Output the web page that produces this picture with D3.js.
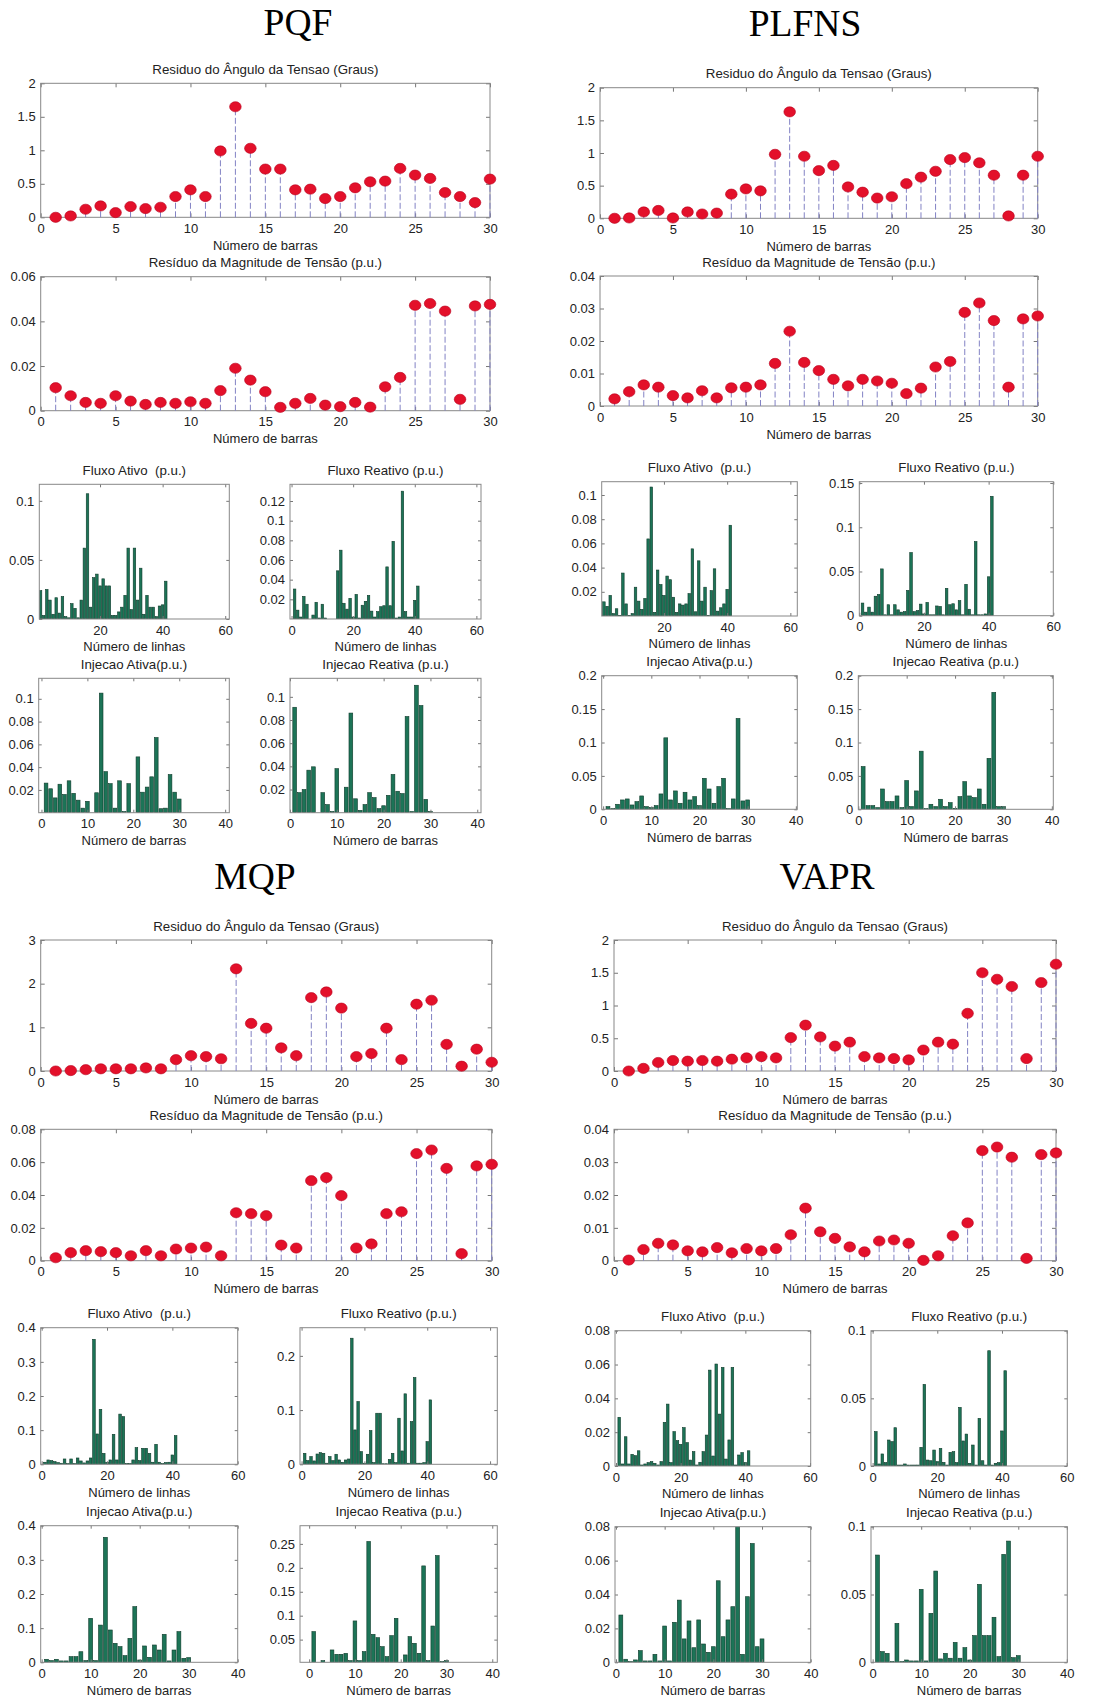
<!DOCTYPE html>
<html>
<head>
<meta charset="utf-8">
<style>
  body { margin: 0; background: #fff; }
  svg text { font-family: "Liberation Sans", Arial, sans-serif; fill: #222; white-space: pre; }
  .big { font-family: "Liberation Serif", "Times New Roman", serif; font-size: 37.5px; fill: #000; }
</style>
</head>
<body>
<script src="https://d3js.org/d3.v7.min.js"></script>
<script>
var width = 1110, height = 1700;

// bus numbers (1..30) and line numbers (1..41) of the IEEE 30-bus case
var barras = d3.range(1, 31);
var linhas = d3.range(1, 42);

// ---- PQF ----
var pqfAngulo = [0, 0.02, 0.12, 0.17, 0.07, 0.16, 0.13, 0.15, 0.31, 0.41, 0.31, 0.99, 1.65, 1.03, 0.72,
  0.72, 0.41, 0.42, 0.28, 0.31, 0.44, 0.53, 0.54, 0.73, 0.63, 0.58, 0.37, 0.31, 0.22, 0.57];
var pqfMagnitude = [0.0103, 0.0067, 0.0037, 0.0033, 0.0067, 0.0043, 0.0028, 0.0037, 0.0033, 0.004, 0.0033,
  0.009, 0.019, 0.0137, 0.0085, 0.0015, 0.0033, 0.0055, 0.0025, 0.0018, 0.0037, 0.0016, 0.0107, 0.0149,
  0.0472, 0.048, 0.0446, 0.0051, 0.0469, 0.0476];
var pqfFluxoAtivo = [0.024, 0.003, 0.025, 0.016, 0.004, 0.018, 0.005, 0.019, 0.002, 0.001, 0.013, 0.009,
  0.001, 0.016, 0.06, 0.106, 0.01, 0.035, 0.038, 0.028, 0.034, 0.028, 0.028, 0.003, 0.003, 0.006, 0.01,
  0.02, 0.06, 0.008, 0.06, 0.016, 0.043, 0.004, 0.02, 0.01, 0.01, 0.002, 0.011, 0.012, 0.032];
var pqfFluxoReativo = [0.0305, 0.009, 0.002, 0.023, 0.015, 0, 0.004, 0.017, 0.001, 0.015, 0.001, 0, 0, 0,
  0.049, 0.07, 0.016, 0.01, 0.021, 0.002, 0.025, 0.001, 0.014, 0.018, 0.024, 0.008, 0.002, 0.0075, 0.0125,
  0.0135, 0.053, 0.0135, 0.079, 0.001, 0.002, 0.13, 0.0075, 0.002, 0.002, 0.019, 0.0335];
var pqfInjAtiva = [0.026, 0.021, 0.013, 0.025, 0.016, 0.028, 0.017, 0.011, 0.004, 0.01, 0, 0.0175, 0.105,
  0.036, 0.0255, 0.004, 0.028, 0.001, 0.0255, 0, 0.049, 0.018, 0.0225, 0.0315, 0.066, 0.0035, 0.004,
  0.0335, 0.018, 0.012];
var pqfInjReativa = [0.091, 0.0173, 0.02, 0.0367, 0.0396, 0, 0.0173, 0.007, 0.001, 0.038, 0, 0.022, 0.086,
  0.012, 0.002, 0.007, 0.0173, 0.013, 0.0035, 0.006, 0.015, 0.033, 0.0185, 0.0165, 0.083, 0.001, 0.11,
  0.0925, 0.0115, 0.001];

// ---- PLFNS ----
var plfnsAngulo = [0, 0.005, 0.097, 0.12, 0.005, 0.097, 0.066, 0.08, 0.37, 0.45, 0.42, 0.98, 1.63, 0.95,
  0.73, 0.81, 0.48, 0.4, 0.31, 0.33, 0.53, 0.63, 0.72, 0.9, 0.93, 0.85, 0.66, 0.036, 0.66, 0.95];
var plfnsMagnitude = [0.0022, 0.0044, 0.0065, 0.0058, 0.0032, 0.0025, 0.0047, 0.0025, 0.0056, 0.0058,
  0.0065, 0.0131, 0.023, 0.0134, 0.0109, 0.0082, 0.0062, 0.0082, 0.0077, 0.007, 0.0038, 0.0055, 0.012,
  0.0137, 0.0288, 0.0317, 0.0263, 0.0058, 0.0268, 0.0277];
var plfnsFluxoAtivo = [0.0117, 0.008, 0.017, 0.002, 0.006, 0.0005, 0.0355, 0.01, 0.0005, 0.002, 0.0238,
  0.0123, 0.0055, 0.0145, 0.0637, 0.1066, 0.003, 0.038, 0.026, 0.017, 0.033, 0.03, 0.0155, 0.003, 0.01,
  0.009, 0.01, 0.0185, 0.0555, 0.0035, 0.0456, 0.0123, 0.0238, 0.0005, 0.021, 0.039, 0.004, 0.0068, 0.01,
  0.022, 0.075];
var plfnsFluxoReativo = [0.0143, 0.004, 0.0097, 0.004, 0.022, 0.024, 0.0529, 0.001, 0.0124, 0.001, 0.0124,
  0.0066, 0.004, 0.0046, 0.0286, 0.0714, 0.0046, 0.0058, 0.0131, 0.002, 0.015, 0.001, 0.001, 0.011, 0.0104,
  0.001, 0.0309, 0.0124, 0.0135, 0.0066, 0.017, 0.001, 0.0355, 0.0073, 0.001, 0.0838, 0.001, 0.001, 0.002,
  0.044, 0.135];
var plfnsInjAtiva = [0.004, 0.001, 0.0075, 0.014, 0.0155, 0.0065, 0.0115, 0.02, 0.004, 0.0025, 0.0055, 0.023,
  0.107, 0.014, 0.0275, 0.009, 0.0255, 0.014, 0.019, 0.0055, 0.0464, 0.0304, 0.009, 0.034, 0.0464, 0.001,
  0.0155, 0.136, 0.0125, 0.014];
var plfnsInjReativa = [0.064, 0.0055, 0.0055, 0.0025, 0.0304, 0.0115, 0.0115, 0.02, 0.0025, 0.043, 0.004,
  0.0275, 0.087, 0.001, 0.0075, 0.004, 0.015, 0.004, 0.01, 0.0015, 0.019, 0.0414, 0.02, 0.0175, 0.0304,
  0.0075, 0.0763, 0.175, 0.004, 0.004];

// ---- MQP ----
var mqpAngulo = [0, 0.01, 0.03, 0.05, 0.05, 0.05, 0.07, 0.05, 0.26, 0.35, 0.33, 0.28, 2.34, 1.09, 0.98,
  0.53, 0.35, 1.68, 1.81, 1.44, 0.33, 0.4, 0.98, 0.26, 1.53, 1.62, 0.61, 0.11, 0.5, 0.2];
var mqpMagnitude = [0.0018, 0.0049, 0.0061, 0.0055, 0.0049, 0.003, 0.0061, 0.003, 0.0071, 0.0077, 0.0083,
  0.003, 0.0292, 0.0286, 0.0274, 0.0095, 0.0077, 0.0487, 0.0506, 0.0396, 0.0077, 0.0102, 0.0286, 0.0298,
  0.0652, 0.0674, 0.0562, 0.0043, 0.0577, 0.0587];
var mqpFluxoAtivo = [0.006, 0.0127, 0.0107, 0.0078, 0.0049, 0.003, 0.0156, 0.002, 0.0156, 0.002, 0.0185,
  0.0098, 0.004, 0.0098, 0.0185, 0.366, 0.0888, 0.161, 0.032, 0.006, 0.0127, 0.0878, 0.0127, 0.147, 0.1395,
  0.002, 0.002, 0.0127, 0.0488, 0.0107, 0.0468, 0.0468, 0.032, 0.006, 0.0585, 0.006, 0.002, 0.005, 0.006,
  0.0273, 0.0839];
var mqpFluxoReativo = [0.0203, 0.0068, 0.0142, 0.0062, 0.019, 0.0215, 0.0203, 0.002, 0.0142, 0.0068, 0.0185,
  0.008, 0.0037, 0.008, 0.0098, 0.2326, 0.0634, 0.1157, 0.0234, 0.002, 0.0185, 0.0622, 0.003, 0.0942, 0.0942,
  0.001, 0.001, 0.009, 0.0203, 0.003, 0.085, 0.0246, 0.13, 0.002, 0.0788, 0.16, 0.002, 0.002, 0.003, 0.0418,
  0.1188];
var mqpInjAtiva = [0.0088, 0.005, 0.0088, 0.004, 0.004, 0.0166, 0.0166, 0.031, 0.005, 0.1288, 0.005, 0.109,
  0.366, 0.0946, 0.0556, 0.0459, 0.0195, 0.0702, 0.163, 0.0068, 0.0478, 0.0146, 0.0507, 0.036, 0.082, 0.004,
  0.036, 0.0898, 0.0117, 0.0137];
var mqpInjReativa = [0.0667, 0.0026, 0.006, 0.002, 0.0284, 0.0193, 0.0193, 0.0213, 0.006, 0.089, 0.006,
  0.025, 0.255, 0.061, 0.054, 0.0353, 0.0144, 0.0583, 0.0945, 0.002, 0.018, 0.0562, 0.0423, 0.0214, 0.204,
  0.006, 0.0784, 0.2256, 0.004, 0.006];

// ---- VAPR ----
var vaprAngulo = [0, 0.04, 0.13, 0.16, 0.15, 0.16, 0.15, 0.18, 0.2, 0.22, 0.2, 0.51, 0.7, 0.52, 0.38, 0.44,
  0.22, 0.2, 0.19, 0.17, 0.32, 0.44, 0.41, 0.88, 1.5, 1.4, 1.29, 0.19, 1.35, 1.63];
var vaprMagnitude = [0.0002, 0.0034, 0.0053, 0.0048, 0.003, 0.0027, 0.004, 0.0024, 0.0037, 0.003, 0.0037,
  0.0079, 0.016, 0.0088, 0.0068, 0.0042, 0.0027, 0.006, 0.0063, 0.0053, 0.0001, 0.0015, 0.0076, 0.0115,
  0.0335, 0.0346, 0.0315, 0.0007, 0.0323, 0.0328];
var vaprFluxoAtivo = [0.0288, 0.0012, 0.0173, 0.0012, 0.0069, 0.0061, 0.009, 0.0006, 0.0012, 0.002, 0.0026,
  0.0016, 0.0006, 0.0026, 0.0258, 0.0366, 0.002, 0.0203, 0.015, 0.0128, 0.0227, 0.0138, 0.0035, 0.0085,
  0.0006, 0.0022, 0.0085, 0.0183, 0.0567, 0.0059, 0.0603, 0.0307, 0.0583, 0.0041, 0.0154, 0.0583, 0.0006,
  0.0065, 0.0079, 0.002, 0.009];
var vaprFluxoReativo = [0.0254, 0.0015, 0.0089, 0.0025, 0.0192, 0.018, 0.0283, 0.0007, 0.0007, 0.0015, 0.0007,
  0.0007, 0.0007, 0.0007, 0.0138, 0.0603, 0.0044, 0.0039, 0.0118, 0.0032, 0.013, 0.0027, 0.0007, 0.0101,
  0.0106, 0.0025, 0.0433, 0.0185, 0.0236, 0.002, 0.0155, 0.0007, 0.0352, 0.0039, 0.0007, 0.0852, 0.0007,
  0.002, 0.0025, 0.0259, 0.0704];
var vaprInjAtiva = [0.0279, 0.0018, 0.0004, 0.0014, 0.0069, 0.0008, 0.0008, 0.0047, 0.0008, 0.0214, 0.0008,
  0.0236, 0.0367, 0.0138, 0.0244, 0.0086, 0.025, 0.0108, 0.0059, 0.0092, 0.0481, 0.0151, 0.025, 0.0328, 0.08,
  0.0047, 0.0387, 0.0701, 0.0092, 0.0138];
var vaprInjReativa = [0.0791, 0.0079, 0.0066, 0.0005, 0.0287, 0.0005, 0.0017, 0.001, 0.001, 0.0538, 0.001,
  0.0361, 0.0673, 0.0025, 0.0066, 0.003, 0.0147, 0.003, 0.0108, 0.0017, 0.0197, 0.0575, 0.0197, 0.0197,
  0.0332, 0.0042, 0.0796, 0.0894, 0.0034, 0.0049];

var methods = [
  { name: "PQF", x: 298, y: 35 },
  { name: "PLFNS", x: 805, y: 36 },
  { name: "MQP", x: 255, y: 889 },
  { name: "VAPR", x: 827, y: 889 }
];

var tAng = "Residuo do Ângulo da Tensao (Graus)";
var tMag = "Resíduo da Magnitude de Tensão (p.u.)";
var tFA = "Fluxo Ativo  (p.u.)", tFR = "Fluxo Reativo (p.u.)";
var tIA = "Injecao Ativa(p.u.)", tIR = "Injecao Reativa (p.u.)";
var lBarras = "Número de barras", lLinhas = "Número de linhas";

var stepTicks = function(a, b, s) { return d3.range(0, Math.round((b - a) / s) + 1).map(function(i) { return +(a + i * s).toFixed(4); }); };
var t30 = stepTicks(0, 30, 5);

// stem plots: box = [left, top, right, bottom]
var stems = [
  { data: pqfAngulo, box: [40.7, 83.3, 490, 217.3], y: [0, 2], yt: stepTicks(0, 2, 0.5), title: tAng },
  { data: pqfMagnitude, box: [40.7, 276.7, 490, 410.7], y: [0, 0.06], yt: stepTicks(0, 0.06, 0.02), title: tMag },
  { data: plfnsAngulo, box: [600, 87.7, 1037.7, 218.3], y: [0, 2], yt: stepTicks(0, 2, 0.5), title: tAng },
  { data: plfnsMagnitude, box: [600, 276, 1037.7, 406], y: [0, 0.04], yt: stepTicks(0, 0.04, 0.01), title: tMag },
  { data: mqpAngulo, box: [40.7, 940, 491.7, 1071], y: [0, 3], yt: stepTicks(0, 3, 1), title: tAng },
  { data: mqpMagnitude, box: [40.7, 1129.3, 491.7, 1260.7], y: [0, 0.08], yt: stepTicks(0, 0.08, 0.02), title: tMag },
  { data: vaprAngulo, box: [614, 940, 1056, 1071], y: [0, 2], yt: stepTicks(0, 2, 0.5), title: tAng },
  { data: vaprMagnitude, box: [614, 1129.3, 1056, 1260.7], y: [0, 0.04], yt: stepTicks(0, 0.04, 0.01), title: tMag }
];

var bars = [
  { data: pqfFluxoAtivo, cat: linhas, box: [39.3, 484.3, 229.3, 619], x: [0.6, 61.3], y: [0, 0.114], xt: [20, 40, 60], yt: [0, 0.05, 0.1], title: tFA, xl: lLinhas },
  { data: pqfFluxoReativo, cat: linhas, box: [290, 484.3, 481, 619], x: [-0.5, 61.5], y: [0, 0.137], xt: [0, 20, 40, 60], yt: stepTicks(0.02, 0.12, 0.02), title: tFR, xl: lLinhas },
  { data: pqfInjAtiva, cat: barras, box: [38.7, 678.3, 229.3, 812.7], x: [-0.6, 40.9], y: [0, 0.118], xt: stepTicks(0, 40, 10), yt: stepTicks(0.02, 0.1, 0.02), title: tIA, xl: lBarras },
  { data: pqfInjReativa, cat: barras, box: [290, 678.3, 481, 812.7], x: [0, 40.8], y: [0, 0.116], xt: stepTicks(0, 40, 10), yt: stepTicks(0.02, 0.1, 0.02), title: tIR, xl: lBarras },

  { data: plfnsFluxoAtivo, cat: linhas, box: [601.7, 481.7, 797.3, 616], x: [0.3, 62.2], y: [0, 0.111], xt: [20, 40, 60], yt: stepTicks(0.02, 0.1, 0.02), title: tFA, xl: lLinhas },
  { data: plfnsFluxoReativo, cat: linhas, box: [859.3, 481.7, 1053.3, 615.7], x: [0, 60], y: [0, 0.1515], xt: [0, 20, 40, 60], yt: stepTicks(0, 0.15, 0.05), title: tFR, xl: lLinhas },
  { data: plfnsInjAtiva, cat: barras, box: [601.7, 675.7, 797.3, 809.3], x: [-0.3, 40.3], y: [0, 0.2], xt: stepTicks(0, 40, 10), yt: stepTicks(0, 0.2, 0.05), title: tIA, xl: lBarras },
  { data: plfnsInjReativa, cat: barras, box: [858.3, 675.7, 1053.3, 809.3], x: [0, 40.3], y: [0, 0.2], xt: stepTicks(0, 40, 10), yt: stepTicks(0, 0.2, 0.05), title: tIR, xl: lBarras },

  { data: mqpFluxoAtivo, cat: linhas, box: [40.7, 1327.7, 237.7, 1464.3], x: [-0.3, 60], y: [0, 0.4], xt: [0, 20, 40, 60], yt: stepTicks(0, 0.4, 0.1), title: tFA, xl: lLinhas },
  { data: mqpFluxoReativo, cat: linhas, box: [300, 1327.7, 497.3, 1464.3], x: [-0.5, 62.3], y: [0, 0.252], xt: [0, 20, 40, 60], yt: stepTicks(0, 0.2, 0.1), title: tFR, xl: lLinhas },
  { data: mqpInjAtiva, cat: barras, box: [40.7, 1525.7, 237.7, 1662.3], x: [-0.2, 40], y: [0, 0.4], xt: stepTicks(0, 40, 10), yt: stepTicks(0, 0.4, 0.1), title: tIA, xl: lBarras },
  { data: mqpInjReativa, cat: barras, box: [300, 1525.7, 497.3, 1662.3], x: [-2, 41.1], y: [0.0026, 0.288], xt: stepTicks(0, 40, 10), yt: stepTicks(0.05, 0.25, 0.05), title: tIR, xl: lBarras },

  { data: vaprFluxoAtivo, cat: linhas, box: [615, 1330.7, 810.7, 1466], x: [-0.3, 60.2], y: [0, 0.08], xt: [0, 20, 40, 60], yt: stepTicks(0, 0.08, 0.02), title: tFA, xl: lLinhas },
  { data: vaprFluxoReativo, cat: linhas, box: [871, 1330.7, 1067.3, 1466], x: [-0.5, 60.2], y: [0, 0.1], xt: [0, 20, 40, 60], yt: stepTicks(0, 0.1, 0.05), title: tFR, xl: lLinhas },
  { data: vaprInjAtiva, cat: barras, box: [615, 1526.7, 810.7, 1662.3], x: [-0.2, 40], y: [0, 0.08], xt: stepTicks(0, 40, 10), yt: stepTicks(0, 0.08, 0.02), title: tIA, xl: lBarras },
  { data: vaprInjReativa, cat: barras, box: [871, 1526.7, 1067.3, 1662.3], x: [-0.34, 40.1], y: [0, 0.1], xt: stepTicks(0, 40, 10), yt: stepTicks(0, 0.1, 0.05), title: tIR, xl: lBarras }
];

var svg = d3.select("body").append("svg")
    .attr("width", width)
    .attr("height", height);

svg.selectAll(".big")
  .data(methods)
  .enter().append("text")
    .attr("class", "big")
    .attr("x", function(d) { return d.x; })
    .attr("y", function(d) { return d.y; })
    .attr("text-anchor", "middle")
    .text(function(d) { return d.name; });

var fmt = d3.format("~g");
var clipId = 0;

// draws the MATLAB style box, ticks on all four sides, labels, title
function frame(g, w, h, x, y, xt, yt, title, xl, tick) {
  g.append("g").attr("transform", "translate(0," + h + ")")
    .call(d3.axisBottom(x).tickValues(xt).tickFormat(fmt).tickSizeInner(-tick).tickSizeOuter(0).tickPadding(6.5));
  g.append("g")
    .call(d3.axisTop(x).tickValues(xt).tickFormat("").tickSizeInner(-tick).tickSizeOuter(0));
  g.append("g")
    .call(d3.axisLeft(y).tickValues(yt).tickFormat(fmt).tickSizeInner(-tick).tickSizeOuter(0).tickPadding(5));
  g.append("g").attr("transform", "translate(" + w + ",0)")
    .call(d3.axisRight(y).tickValues(yt).tickFormat("").tickSizeInner(-tick).tickSizeOuter(0));
  g.selectAll(".domain").remove();
  g.selectAll(".tick line").attr("stroke", "#777");
  g.selectAll(".tick text").attr("font-size", 13).attr("fill", "#222")
    .style("font-family", "'Liberation Sans', Arial, sans-serif");
  g.append("rect")
    .attr("width", w).attr("height", h)
    .attr("fill", "none").attr("stroke", "#888").attr("stroke-width", 1);
  g.append("text")
    .attr("x", w / 2).attr("y", -9.5)
    .attr("text-anchor", "middle").attr("font-size", 13.3)
    .text(title);
  g.append("text")
    .attr("x", w / 2).attr("y", h + 32.5)
    .attr("text-anchor", "middle").attr("font-size", 13)
    .text(xl);
}

stems.forEach(function(s) {
  var w = s.box[2] - s.box[0], h = s.box[3] - s.box[1];
  var g = svg.append("g").attr("transform", "translate(" + s.box[0] + "," + s.box[1] + ")");
  var x = d3.scaleLinear().domain([0, 30]).range([0, w]);
  var y = d3.scaleLinear().domain(s.y).range([h, 0]);
  frame(g, w, h, x, y, t30, s.yt, s.title, lBarras, 4);

  var pts = barras.map(function(b, i) { return { b: b, v: s.data[i] }; });
  g.selectAll(".stem")
    .data(pts)
    .enter().append("line")
      .attr("class", "stem")
      .attr("x1", function(d) { return x(d.b); })
      .attr("x2", function(d) { return x(d.b); })
      .attr("y1", y(0))
      .attr("y2", function(d) { return y(d.v); })
      .attr("stroke", "#8282c4")
      .attr("stroke-width", 1)
      .attr("stroke-dasharray", "6,2.5");
  g.selectAll(".dot")
    .data(pts)
    .enter().append("ellipse")
      .attr("class", "dot")
      .attr("cx", function(d) { return x(d.b); })
      .attr("cy", function(d) { return y(d.v); })
      .attr("rx", 5.8)
      .attr("ry", 5.1)
      .attr("fill", "#e3102a")
      .attr("stroke", "#b8001c")
      .attr("stroke-width", 0.6);
});

bars.forEach(function(s) {
  var w = s.box[2] - s.box[0], h = s.box[3] - s.box[1];
  var g = svg.append("g").attr("transform", "translate(" + s.box[0] + "," + s.box[1] + ")");
  var x = d3.scaleLinear().domain(s.x).range([0, w]);
  var y = d3.scaleLinear().domain(s.y).range([h, 0]);

  var id = "clip" + (clipId++);
  g.append("clipPath").attr("id", id)
    .append("rect").attr("width", w).attr("height", h);

  var pts = s.cat.map(function(c, i) { return { c: c, v: s.data[i] }; });
  g.append("g").attr("clip-path", "url(#" + id + ")")
    .selectAll("rect")
    .data(pts)
    .enter().append("rect")
      .attr("x", function(d) { return x(d.c - 0.4); })
      .attr("width", function(d) { return x(d.c + 0.4) - x(d.c - 0.4); })
      .attr("y", function(d) { return y(Math.max(d.v, s.y[0])); })
      .attr("height", function(d) { return Math.max(0, y(s.y[0]) - y(Math.max(d.v, s.y[0]))); })
      .attr("fill", "#1c7457")
      .attr("stroke", "#0e3a2a")
      .attr("stroke-width", 0.6);

  frame(g, w, h, x, y, s.xt, s.yt, s.title, s.xl, 3);
});
</script>
</body>
</html>
